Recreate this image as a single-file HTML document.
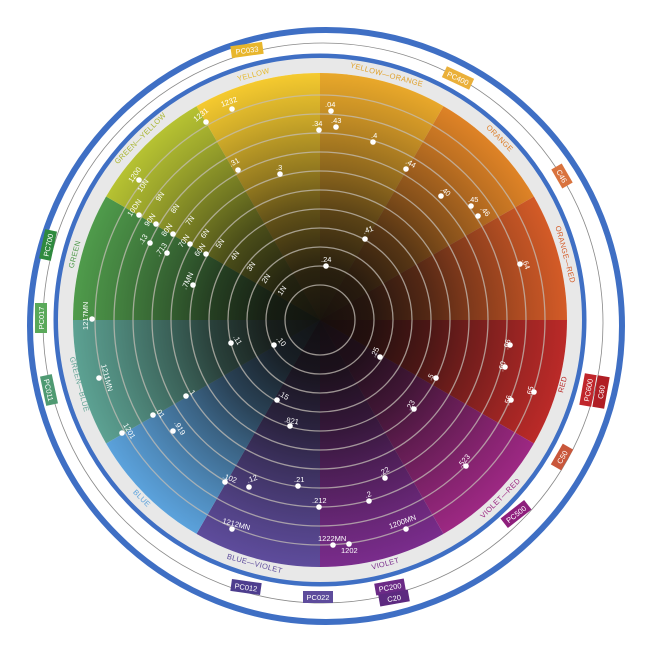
<!DOCTYPE html>
<html><head><meta charset="utf-8"><style>
html,body{margin:0;padding:0;background:#fff;}
svg{display:block;font-family:"Liberation Sans",sans-serif;}
.d{fill:#fff;}
.l{fill:#fff;font-size:7.5px;}
.w{font-size:7.5px;letter-spacing:0.3px;}
.t{fill:#fff;font-size:7.5px;}
</style></head><body>
<svg width="650" height="650" viewBox="0 0 650 650">
<defs>
<radialGradient id="dk" gradientUnits="userSpaceOnUse" cx="320" cy="320" r="247">
<stop offset="0" stop-color="#0e0c0b" stop-opacity="0.95"/>
<stop offset="0.2" stop-color="#0e0c0b" stop-opacity="0.88"/>
<stop offset="0.45" stop-color="#0e0c0b" stop-opacity="0.64"/>
<stop offset="0.6" stop-color="#0e0c0b" stop-opacity="0.44"/>
<stop offset="0.85" stop-color="#0e0c0b" stop-opacity="0.15"/>
<stop offset="1" stop-color="#0e0c0b" stop-opacity="0"/>
</radialGradient>
</defs>

<!-- outer rings -->
<circle cx="326" cy="326" r="296" fill="none" stroke="#3f6fc4" stroke-width="6"/>
<circle cx="323" cy="323" r="280" fill="none" stroke="#888" stroke-width="0.8"/>
<circle cx="320" cy="320" r="264" fill="none" stroke="#3f6fc4" stroke-width="5"/>
<circle cx="320" cy="320" r="254.5" fill="none" stroke="#e8e8e8" stroke-width="15"/>

<!-- wedges -->
<path d="M320,320 L320,73 A247,247 0 0 1 443.5,106.1 Z" fill="#e9a82a"/>
<path d="M320,320 L443.5,106.1 A247,247 0 0 1 533.9,196.5 Z" fill="#df8326"/>
<path d="M320,320 L533.9,196.5 A247,247 0 0 1 567,320 Z" fill="#d45b27"/>
<path d="M320,320 L567,320 A247,247 0 0 1 533.9,443.5 Z" fill="#bb2a28"/>
<path d="M320,320 L533.9,443.5 A247,247 0 0 1 443.5,533.9 Z" fill="#9d2883"/>
<path d="M320,320 L443.5,533.9 A247,247 0 0 1 320,567 Z" fill="#7a2c8c"/>
<path d="M320,320 L320,567 A247,247 0 0 1 196.5,533.9 Z" fill="#5e4c9c"/>
<path d="M320,320 L196.5,533.9 A247,247 0 0 1 106.1,443.5 Z" fill="#5ba2dc"/>
<path d="M320,320 L106.1,443.5 A247,247 0 0 1 73,320 Z" fill="#5ca192"/>
<path d="M320,320 L73,320 A247,247 0 0 1 106.1,196.5 Z" fill="#4f9b4b"/>
<path d="M320,320 L106.1,196.5 A247,247 0 0 1 196.5,106.1 Z" fill="#b6c232"/>
<path d="M320,320 L196.5,106.1 A247,247 0 0 1 320,73 Z" fill="#f5ca2f"/>
<circle cx="320" cy="320" r="247" fill="url(#dk)"/>

<!-- rings -->
<g fill="none" stroke="#c4beb6" stroke-width="1.3" opacity="0.75">
<circle cx="320" cy="320" r="35"/><circle cx="320" cy="320" r="54"/><circle cx="320" cy="320" r="73"/>
<circle cx="320" cy="320" r="92"/><circle cx="320" cy="320" r="111"/><circle cx="320" cy="320" r="130"/>
<circle cx="320" cy="320" r="149"/><circle cx="320" cy="320" r="168"/><circle cx="320" cy="320" r="187"/>
<circle cx="320" cy="320" r="206"/><circle cx="320" cy="320" r="225"/>
</g>

<!-- wedge names -->
<g class="w" text-anchor="middle">
<text transform="translate(254,77) rotate(-15)" fill="#e6b92a">YELLOW</text>
<text transform="translate(386,77) rotate(15)" fill="#e0a12a">YELLOW—ORANGE</text>
<text transform="translate(498,140) rotate(45)" fill="#de7e26">ORANGE</text>
<text transform="translate(563,255) rotate(75)" fill="#d45b27">ORANGE—RED</text>
<text transform="translate(565,385) rotate(-75)" fill="#bb2a28">RED</text>
<text transform="translate(502,500) rotate(-45)" fill="#9d2883">VIOLET—RED</text>
<text transform="translate(386,566) rotate(-15)" fill="#7a2c8c">VIOLET</text>
<text transform="translate(254,566) rotate(15)" fill="#5e4c9c">BLUE—VIOLET</text>
<text transform="translate(140,500) rotate(45)" fill="#5ba2dc">BLUE</text>
<text transform="translate(77,385) rotate(75)" fill="#5ca192">GREEN—BLUE</text>
<text transform="translate(77,255) rotate(-75)" fill="#4f9b4b">GREEN</text>
<text transform="translate(142,140) rotate(-45)" fill="#a9b630">GREEN—YELLOW</text>
</g>

<!-- tags -->
<g class="t" text-anchor="middle">
<g transform="translate(247,50) rotate(-8)"><rect x="-16" y="-6" width="32" height="12" fill="#e8b62c"/><text y="3">PC033</text></g>
<g transform="translate(458,78) rotate(25)"><rect x="-15" y="-6" width="30" height="12" fill="#eab03a"/><text y="3">PC400</text></g>
<g transform="translate(562,176) rotate(60)"><rect x="-11" y="-6" width="22" height="12" fill="#d9733e"/><text y="3">C46</text></g>
<g transform="translate(588,390) rotate(-80)"><rect x="-16" y="-6" width="32" height="12" fill="#c0262b"/><text y="3">PC600</text></g>
<g transform="translate(601,392) rotate(-80)"><rect x="-16" y="-6" width="32" height="12" fill="#b01e24"/><text y="3">C60</text></g>
<g transform="translate(562,457) rotate(-60)"><rect x="-12" y="-6" width="24" height="12" fill="#c9573b"/><text y="3">C50</text></g>
<g transform="translate(516,514) rotate(-38)"><rect x="-15" y="-6" width="30" height="12" fill="#8e1f7c"/><text y="3">PC500</text></g>
<g transform="translate(390,587) rotate(-10)"><rect x="-15" y="-6" width="30" height="12" fill="#6b2a86"/><text y="3">PC200</text></g>
<g transform="translate(394,598) rotate(-10)"><rect x="-15" y="-6" width="30" height="12" fill="#5d2a80"/><text y="3">C20</text></g>
<g transform="translate(318,597)"><rect x="-15" y="-6" width="30" height="12" fill="#5e4c9c"/><text y="3">PC022</text></g>
<g transform="translate(246,587) rotate(8)"><rect x="-15" y="-6" width="30" height="12" fill="#4d3d8e"/><text y="3">PC012</text></g>
<g transform="translate(49,390) rotate(78)"><rect x="-15" y="-6" width="30" height="12" fill="#4f9a72"/><text y="3">PC011</text></g>
<g transform="translate(41,318) rotate(-90)"><rect x="-15" y="-6" width="30" height="12" fill="#5aa95a"/><text y="3">PC017</text></g>
<g transform="translate(48,245) rotate(-78)"><rect x="-15" y="-6" width="30" height="12" fill="#2f8a3e"/><text y="3">PC700</text></g>
</g>

<!-- N labels -->
<g class="l" text-anchor="middle">
<text transform="translate(145,187) rotate(-55)">10N</text>
<text transform="translate(162,198) rotate(-55)">9N</text>
<text transform="translate(177,210) rotate(-55)">8N</text>
<text transform="translate(192,222) rotate(-55)">7N</text>
<text transform="translate(207,235) rotate(-55)">6N</text>
<text transform="translate(222,245) rotate(-55)">5N</text>
<text transform="translate(237,257) rotate(-55)">4N</text>
<text transform="translate(253,268) rotate(-55)">3N</text>
<text transform="translate(268,280) rotate(-55)">2N</text>
<text transform="translate(284,292) rotate(-55)">1N</text>
</g>

<!-- dots -->
<g class="d">
<circle cx="232" cy="109" r="2.8"/><circle cx="206" cy="122" r="2.8"/><circle cx="319" cy="130" r="2.8"/>
<circle cx="238" cy="170" r="2.8"/><circle cx="280" cy="174" r="2.8"/><circle cx="139" cy="180" r="2.8"/>
<circle cx="139" cy="215" r="2.8"/><circle cx="156" cy="224" r="2.8"/><circle cx="173" cy="234" r="2.8"/>
<circle cx="190" cy="244" r="2.8"/><circle cx="206" cy="254" r="2.8"/><circle cx="150" cy="243" r="2.8"/>
<circle cx="167" cy="253" r="2.8"/><circle cx="193" cy="285" r="2.8"/><circle cx="92" cy="319" r="2.8"/>
<circle cx="331" cy="111" r="2.8"/><circle cx="336" cy="127" r="2.8"/><circle cx="373" cy="142" r="2.8"/>
<circle cx="406" cy="169" r="2.8"/><circle cx="441" cy="196" r="2.8"/><circle cx="471" cy="206" r="2.8"/>
<circle cx="478" cy="216" r="2.8"/><circle cx="365" cy="239" r="2.8"/><circle cx="326" cy="266" r="2.8"/>
<circle cx="520" cy="264" r="2.8"/>
<circle cx="231" cy="343" r="2.8"/><circle cx="274" cy="345" r="2.8"/><circle cx="99" cy="378" r="2.8"/>
<circle cx="186" cy="396" r="2.8"/><circle cx="277" cy="400" r="2.8"/><circle cx="153" cy="415" r="2.8"/>
<circle cx="173" cy="431" r="2.8"/><circle cx="290" cy="426" r="2.8"/><circle cx="122" cy="433" r="2.8"/>
<circle cx="225" cy="482" r="2.8"/><circle cx="249" cy="487" r="2.8"/><circle cx="298" cy="486" r="2.8"/>
<circle cx="319" cy="507" r="2.8"/><circle cx="232" cy="529" r="2.8"/>
<circle cx="380" cy="357" r="2.8"/><circle cx="510" cy="345" r="2.8"/><circle cx="505" cy="367" r="2.8"/>
<circle cx="436" cy="378" r="2.8"/><circle cx="534" cy="392" r="2.8"/><circle cx="511" cy="400" r="2.8"/>
<circle cx="414" cy="409" r="2.8"/><circle cx="466" cy="466" r="2.8"/><circle cx="385" cy="478" r="2.8"/>
<circle cx="369" cy="501" r="2.8"/><circle cx="406" cy="529" r="2.8"/><circle cx="333" cy="545" r="2.8"/>
<circle cx="349" cy="544" r="2.8"/>
</g>

<!-- dot labels -->
<g class="l">
<text transform="translate(222,107) rotate(-20)">1232</text>
<text transform="translate(196,122) rotate(-40)">1231</text>
<text x="312" y="126">.34</text>
<text transform="translate(231,167) rotate(-30)">.31</text>
<text x="276" y="170">.3</text>
<text transform="translate(132,183) rotate(-55)">1200</text>
<text transform="translate(131,217) rotate(-55)">10DN</text>
<text transform="translate(148,227) rotate(-55)">90N</text>
<text transform="translate(165,237) rotate(-55)">80N</text>
<text transform="translate(182,248) rotate(-55)">70N</text>
<text transform="translate(198,257) rotate(-55)">60N</text>
<text transform="translate(142,245) rotate(-55)">.13</text>
<text transform="translate(159,257) rotate(-55)">.713</text>
<text transform="translate(186,290) rotate(-65)">.7MN</text>
<text transform="translate(88,330) rotate(-90)">1217MN</text>
<text x="325" y="107">.04</text>
<text x="331" y="123">.43</text>
<text x="371" y="138">.4</text>
<text transform="translate(405,163) rotate(30)">.44</text>
<text transform="translate(440,190) rotate(40)">.40</text>
<text transform="translate(468,202)">.45</text>
<text transform="translate(480,209) rotate(50)">.46</text>
<text transform="translate(364,234) rotate(-20)">.41</text>
<text x="321" y="262">.24</text>
<text transform="translate(522,260) rotate(70)">.64</text>
<text transform="translate(233,337) rotate(60)">.11</text>
<text transform="translate(276,339) rotate(50)">.10</text>
<text transform="translate(101,365) rotate(75)">1211MN</text>
<text transform="translate(188,391) rotate(50)">.1</text>
<text transform="translate(278,395) rotate(30)">.15</text>
<text transform="translate(155,410) rotate(55)">.01</text>
<text transform="translate(174,423) rotate(60)">.919</text>
<text transform="translate(284,422) rotate(10)">.821</text>
<text transform="translate(123,425) rotate(60)">1201</text>
<text transform="translate(222,478) rotate(20)">.102</text>
<text transform="translate(248,483) rotate(-20)">.12</text>
<text x="294" y="482">.21</text>
<text x="312" y="503">.212</text>
<text transform="translate(222,523) rotate(15)">1212MN</text>
<text transform="translate(375,358) rotate(-65)">.25</text>
<text transform="translate(508,350) rotate(-75)">.66</text>
<text transform="translate(503,372) rotate(-75)">.60</text>
<text transform="translate(431,381) rotate(-60)">.5</text>
<text transform="translate(531,397) rotate(-75)">.65</text>
<text transform="translate(509,406) rotate(-75)">.56</text>
<text transform="translate(410,411) rotate(-60)">.23</text>
<text transform="translate(461,468) rotate(-50)">.523</text>
<text transform="translate(381,476) rotate(-30)">.22</text>
<text transform="translate(366,498) rotate(-20)">.2</text>
<text transform="translate(390,529) rotate(-20)">1200MN</text>
<text x="318" y="541">1222MN</text>
<text x="341" y="553">1202</text>
</g>
</svg>
</body></html>
